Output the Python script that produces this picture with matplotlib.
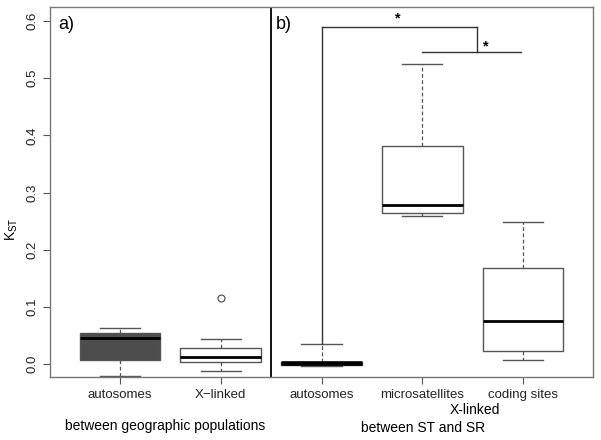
import matplotlib
matplotlib.use("Agg")
import matplotlib.pyplot as plt

plt.rcParams['font.family'] = ['Liberation Sans', 'DejaVu Sans']

categories = ["autosomes", "X\u2212linked", "autosomes", "microsatellites", "coding sites"]
whislo = [-0.021, -0.0117, -0.003, 0.259, 0.007]
q1 = [0.0075, 0.004, -0.002, 0.265, 0.022]
med = [0.045, 0.012, 0.001, 0.279, 0.075]
q3 = [0.054, 0.0274, 0.004, 0.381, 0.168]
whishi = [0.0635, 0.044, 0.035, 0.5245, 0.249]
fliers = [[], [0.115], [], [], []]
fills = ["#4d4d4d", "white", "white", "white", "white"]
yticks = [0.0, 0.1, 0.2, 0.3, 0.4, 0.5, 0.6]

bracket1_y = 0.59
bracket2_y = 0.545

fig = plt.figure(figsize=(6.01, 4.40), dpi=100)
ax = fig.add_axes([0.0832, 0.1432, 0.9035, 0.8408])

stats = []
for i in range(5):
    stats.append(dict(whislo=whislo[i], q1=q1[i], med=med[i], q3=q3[i],
                      whishi=whishi[i], fliers=fliers[i]))
pos = [1, 2, 3, 4, 5]
bp = ax.bxp(stats, positions=pos, widths=0.8, patch_artist=True,
            boxprops=dict(edgecolor="#555555", linewidth=1.0),
            whiskerprops=dict(color="#555555", linestyle=(0, (3, 2)), linewidth=0.9),
            capprops=dict(color="#555555", linewidth=1.0),
            medianprops=dict(color="black", linewidth=2.0),
            flierprops=dict(marker="o", markerfacecolor="none",
                            markeredgecolor="#444444", markersize=5, markeredgewidth=0.8),
            capwidths=0.4)
for patch, f in zip(bp["boxes"], fills):
    patch.set_facecolor(f)
bp["medians"][2].set_linewidth(3.3)
bp["boxes"][2].set_facecolor("#222222")

ax.set_xlim(0.305, 5.695)
ax.set_ylim(-0.0227, 0.6245)
ax.set_yticks(yticks)
ax.set_yticklabels([f"{v:.1f}" for v in yticks], rotation=90, va="center")
ax.set_xticks(pos)
ax.set_xticklabels(categories)
for s in ax.spines.values():
    s.set_color("#777777")
    s.set_linewidth(1.0)
ax.tick_params(colors="#555555", labelcolor="#222222", labelsize=9.5, length=5)

ax.axvline(2.5, color="black", linewidth=1.3)

ax.text(0.015, 0.975, "a)", transform=ax.transAxes, fontsize=13, va="top", ha="left")
ax.text(0.415, 0.975, "b)", transform=ax.transAxes, fontsize=13, va="top", ha="left")

bcol = "#333333"
ax.plot([3, 3], [whishi[2], bracket1_y], color=bcol, lw=1.0)
ax.plot([3, 4.545], [bracket1_y, bracket1_y], color=bcol, lw=1.0)
ax.plot([4.545, 4.545], [bracket1_y, bracket2_y], color=bcol, lw=1.0)
ax.plot([4.0, 4.98], [bracket2_y, bracket2_y], color=bcol, lw=1.0)
ax.text(3.76, bracket1_y + 0.002, "*", fontsize=10.5, ha="center", va="bottom", fontweight="bold")
ax.text(4.6, bracket2_y - 0.002, "*", fontsize=10.5, ha="left", va="bottom", fontweight="bold")

fig.text(0.02, 0.478, r"K$_{\mathregular{ST}}$", rotation=90, fontsize=10, ha="center", va="center")

fig.text(165 / 601, 1 - 426 / 440, "between geographic populations", fontsize=10, ha="center", va="center")
fig.text(475 / 601, 1 - 410 / 440, "X-linked", fontsize=10, ha="center", va="center")
fig.text(423 / 601, 1 - 428 / 440, "between ST and SR", fontsize=10, ha="center", va="center")

fig.savefig("out.png", dpi=100)
